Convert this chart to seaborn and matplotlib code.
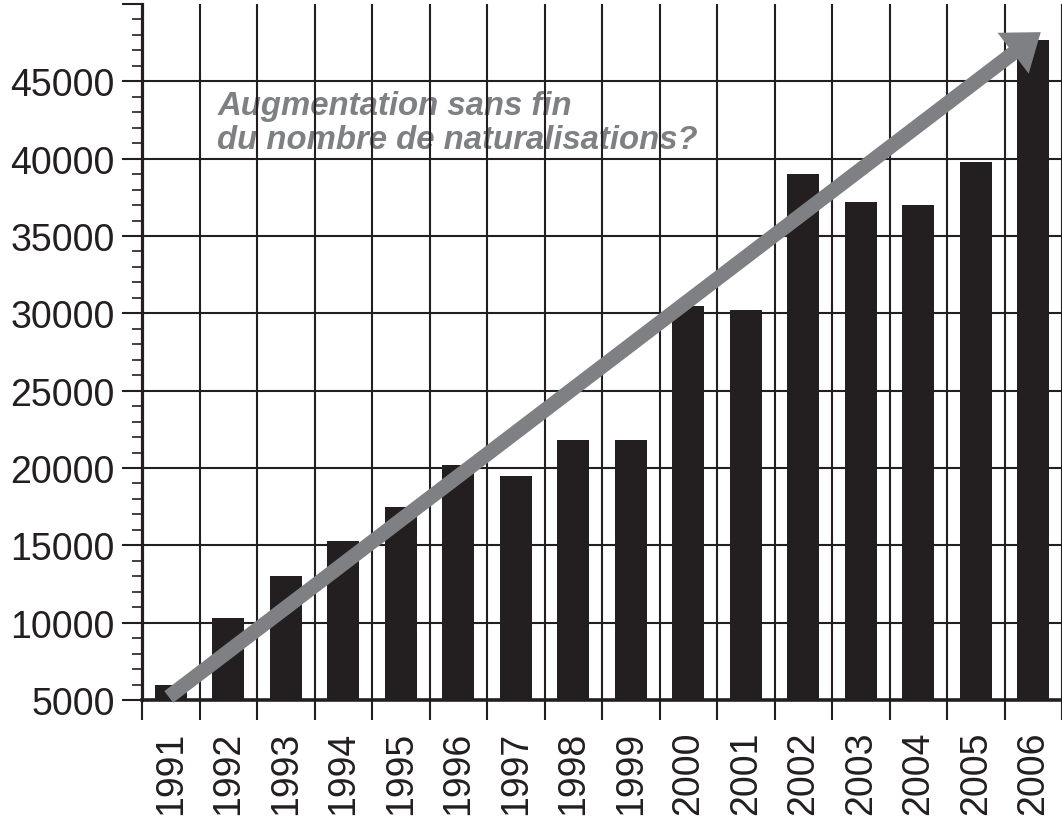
import numpy as np
import matplotlib
matplotlib.use("Agg")
import matplotlib.pyplot as plt
import seaborn as sns
from matplotlib.patches import FancyArrowPatch
from matplotlib.ticker import MultipleLocator

# naturalisations par année
annees = ['1991', '1992', '1993', '1994', '1995', '1996', '1997', '1998',
          '1999', '2000', '2001', '2002', '2003', '2004', '2005', '2006']
naturalisations = [6000, 10300, 13000, 15300, 17500, 20200, 19500, 21800,
                   21800, 30500, 30200, 39000, 37200, 37000, 39800, 47700]
yticks = [5000, 10000, 15000, 20000, 25000, 30000, 35000, 40000, 45000, 50000]
ylabels = ['5000', '10000', '15000', '20000', '25000', '30000', '35000', '40000', '45000', '']
titre = "Augmentation sans fin\ndu nombre de naturalisations?"

noir = '#231f20'
gris = '#7f8083'

sns.set_style("ticks")
plt.rcParams['font.family'] = ['Liberation Sans', 'DejaVu Sans']

fig = plt.figure(figsize=(10.62, 8.2), dpi=100)
ax = fig.add_axes([142 / 1062, 119 / 820, 920 / 1062, 696 / 820])

sns.barplot(x=annees, y=naturalisations, color=noir, saturation=1,
            width=0.55, linewidth=0, ax=ax, zorder=2)

ax.set_ylim(5000, 50000)
ax.set_xlim(-0.5, 15.39)
ax.set_yticks(yticks)
ax.set_yticklabels(ylabels)
ax.yaxis.set_minor_locator(MultipleLocator(1000))
ax.set_xticks(np.arange(-0.5, 16, 1), minor=True)

ax.tick_params(axis='y', which='major', length=14.5, width=1.5, pad=5,
               labelsize=27, color=noir, labelcolor=noir)
ax.tick_params(axis='y', which='minor', length=7, width=1.2, color=noir)
ax.tick_params(axis='x', which='major', length=0, pad=22, labelsize=27,
               labelrotation=90, labelcolor=noir)
ax.tick_params(axis='x', which='minor', length=14.5, width=1.5, color=noir)

# grille : lignes horizontales aux graduations principales, verticales entre les barres
for y in yticks[1:-1]:
    ax.axhline(y, color=noir, lw=1.5, zorder=1.5)
ax.grid(axis='x', which='minor', color=noir, lw=1.5, zorder=1.5)
ax.grid(axis='x', which='major', visible=False)

for s in ['top', 'right']:
    ax.spines[s].set_visible(False)
ax.spines['left'].set_linewidth(2.3)
ax.spines['bottom'].set_linewidth(2.6)
ax.spines['left'].set_color(noir)
ax.spines['bottom'].set_color(noir)
ax.set_xlabel('')
ax.set_ylabel('')

ax.text(0.81, 40700, titre, fontsize=23.7, fontweight='bold', fontstyle='italic',
        color=gris, ha='left', va='baseline', linespacing=1.12, zorder=0.5)

fleche = FancyArrowPatch((-0.035, 5200), (15.13, 48180),
                         arrowstyle='simple,head_length=25,head_width=37,tail_width=10.5',
                         mutation_scale=1, shrinkA=0, shrinkB=0,
                         color=gris, lw=0, zorder=5, clip_on=False)
ax.add_patch(fleche)

fig.savefig('out.png', dpi=100)
